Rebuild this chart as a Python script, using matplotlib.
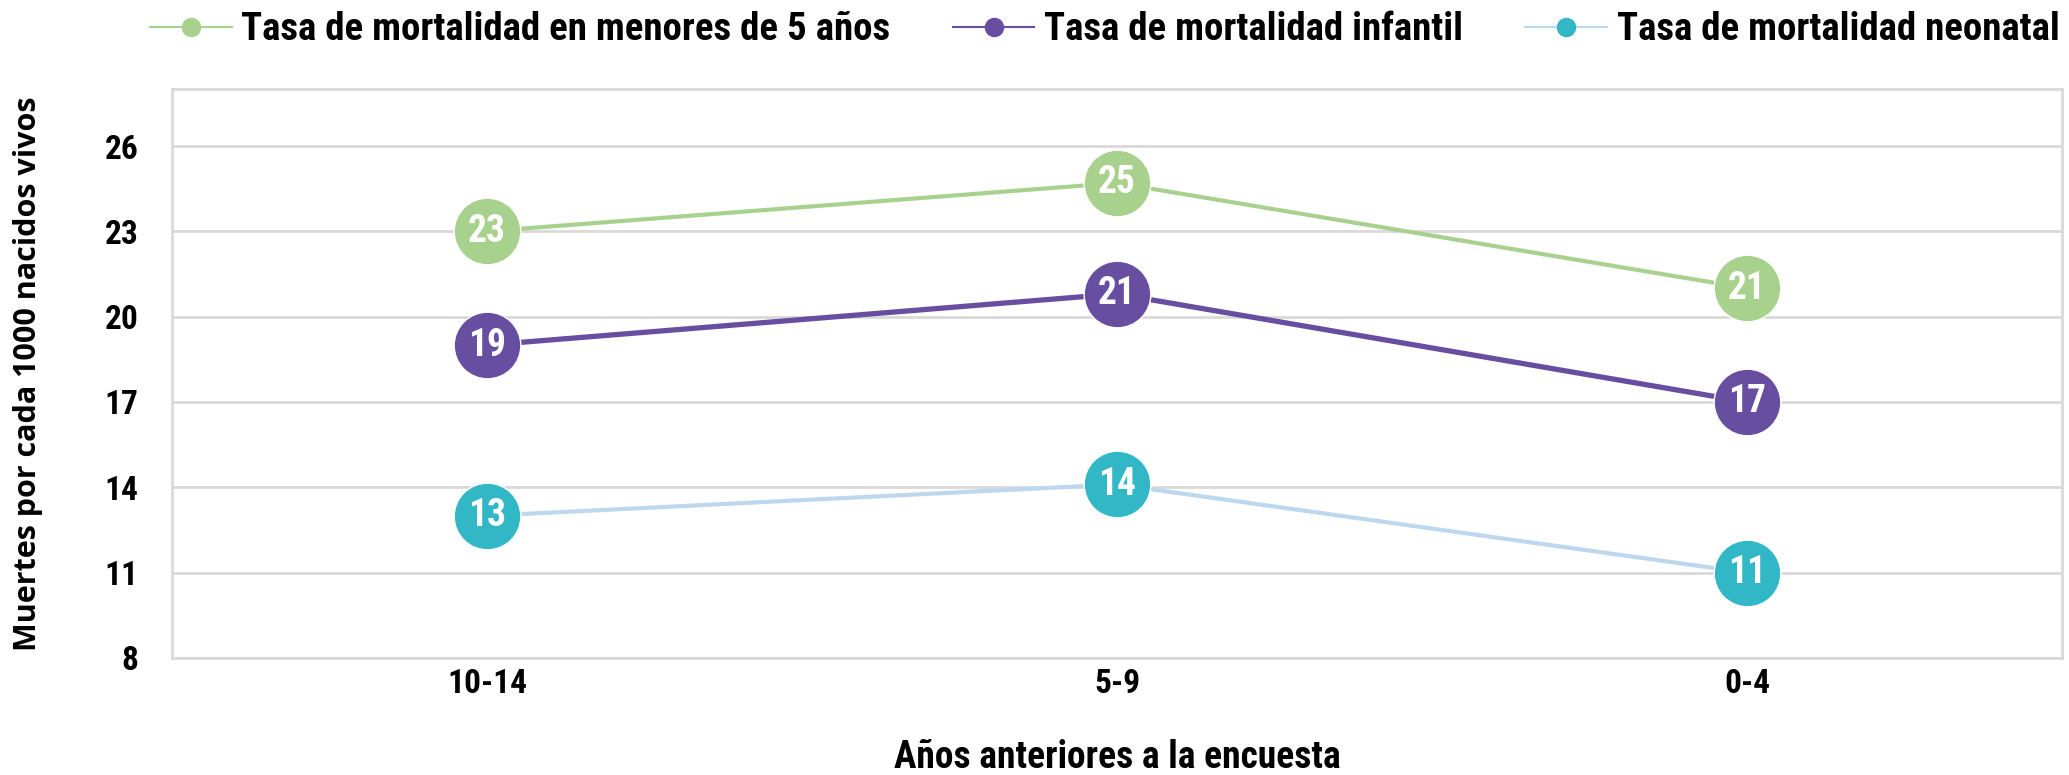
import matplotlib.pyplot as plt

# data
periodos = ['10-14', '5-9', '0-4']
menores_5 = [23, 24.7, 21]
infantil = [19, 20.8, 17]
neonatal = [13, 14.1, 11]
etiquetas_5 = ['23', '25', '21']
etiquetas_inf = ['19', '21', '17']
etiquetas_neo = ['13', '14', '11']

plt.rcParams['font.family'] = ['Roboto Condensed', 'DejaVu Sans']

fig = plt.figure(figsize=(20.69, 7.75), dpi=100)
ax = fig.add_axes([0.0831, 0.151, 0.9135, 0.734])

x = list(range(len(periodos)))
series = [
    ('Tasa de mortalidad en menores de 5 años', menores_5, etiquetas_5, '#A9D18E', '#A9D18E', 3.0),
    ('Tasa de mortalidad infantil', infantil, etiquetas_inf, '#674EA0', '#674EA0', 3.8),
    ('Tasa de mortalidad neonatal', neonatal, etiquetas_neo, '#BDD7EE', '#31B7C5', 3.0),
]

handles = []
for name, vals, labs, lc, mc, lw in series:
    ax.plot(x, vals, color=lc, lw=lw, zorder=2)
    ax.plot(x, vals, 'o', color=mc, ms=48, mec='white', mew=1, zorder=3)
    for xi, v, t in zip(x, vals, labs):
        ax.text(xi, v, t, ha='center', va='center', color='white',
                fontsize=27, fontweight='bold', zorder=4)
    h, = plt.plot([], [], '-o', color=lc, mfc=mc, mec=mc, ms=13, lw=1.5)
    handles.append((h, name))

ax.set_xlim(-0.5, 2.5)
ax.set_ylim(8, 28)
ax.set_yticks(range(8, 27, 3))
ax.set_xticks(x)
ax.set_xticklabels(periodos)
ax.tick_params(axis='both', length=0, labelsize=24)
ax.tick_params(axis='y', pad=24)
ax.tick_params(axis='x', pad=7)
for lab in ax.get_xticklabels() + ax.get_yticklabels():
    lab.set_fontweight('bold')
ax.grid(axis='y', color='#D9D9D9', lw=2)
ax.set_axisbelow(True)
for s in ax.spines.values():
    s.set_color('#D9D9D9')
    s.set_linewidth(2)

ax.set_ylabel('Muertes por cada 1000 nacidos vivos', fontsize=22, fontweight='bold',
              family=['Open Sans', 'DejaVu Sans'])
ax.yaxis.set_label_coords(-0.068, 0.5)
ax.set_xlabel('Años anteriores a la encuesta', fontsize=27, fontweight='bold', labelpad=28)

fig.legend([h for h, n in handles], [n for h, n in handles], loc='center left',
           bbox_to_anchor=(150 / 2069, 1 - 30 / 775), ncol=3, frameon=False,
           prop={'weight': 'bold', 'size': 28}, borderpad=0, borderaxespad=0,
           handlelength=2.1, handletextpad=0.25, columnspacing=1.6)

fig.savefig('out.png', dpi=100)
